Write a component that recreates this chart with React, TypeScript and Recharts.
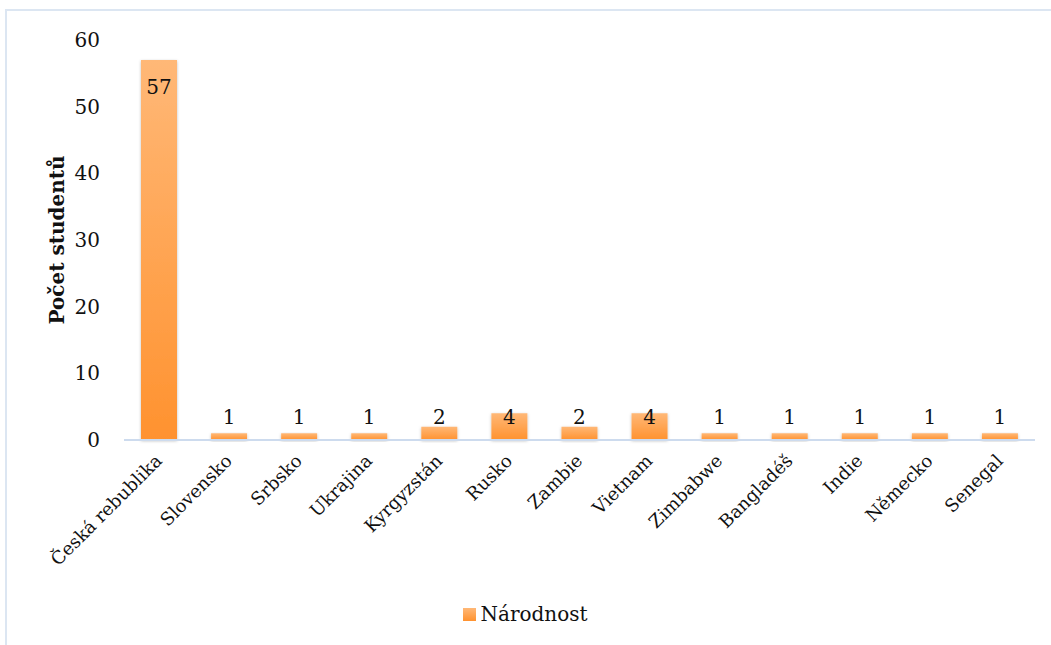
import { BarChart, Bar, XAxis, YAxis, LabelList } from "recharts";

const countries = [
  "Česká rebublika",
  "Slovensko",
  "Srbsko",
  "Ukrajina",
  "Kyrgyzstán",
  "Rusko",
  "Zambie",
  "Vietnam",
  "Zimbabwe",
  "Bangladéš",
  "Indie",
  "Německo",
  "Senegal",
];
const students = [57, 1, 1, 1, 2, 4, 2, 4, 1, 1, 1, 1, 1];
const yTicks = [0, 10, 20, 30, 40, 50, 60];

const data = countries.map((name, i) => ({ name, value: students[i] }));

const FONT = "'DejaVu Serif', 'Liberation Serif', serif";
const AXIS_COLOR = "#cddbee";

const XTick = ({ x, y, payload }: any) => (
  <text
    x={x + 4}
    y={y + 6}
    textAnchor="end"
    fontFamily={FONT}
    fontSize={18}
    fill="#111"
    transform={`rotate(-45, ${x + 4}, ${y + 6})`}
  >
    {payload.value}
  </text>
);

const BarLabel = ({ x, y, width, height, value }: any) => {
  const zero = y + height;
  // big bars get the label inside the top, small ones sit just above the axis
  const ty = height > 40 ? y + 34 : zero - 16;
  return (
    <text x={x + width / 2} y={ty} textAnchor="middle" fontFamily={FONT} fontSize={20} fill="#111">
      {value}
    </text>
  );
};

const LegendContent = () => (
  <div style={{ display: "flex", justifyContent: "center", alignItems: "center", fontFamily: FONT, fontSize: 20, color: "#111" }}>
    <span
      style={{
        display: "inline-block",
        width: 13,
        height: 13,
        marginRight: 4,
        background: "linear-gradient(#ffb877, #ff922f)",
      }}
    />
    Národnost
  </div>
);

export default function App() {
  return (
    <div style={{ position: "absolute", left: 0, top: 0, width: 1051, height: 645, background: "#fff", overflow: "hidden" }}>
      <div
        style={{
          position: "absolute",
          left: 5,
          top: 9,
          width: 1060,
          height: 660,
          border: "2px solid #dce6f2",
          boxSizing: "border-box",
        }}
      />
      <div
        style={{
          position: "absolute",
          left: 57,
          top: 240,
          transform: "translate(-50%, -50%) rotate(-90deg)",
          fontFamily: FONT,
          fontWeight: "bold",
          fontSize: 20,
          whiteSpace: "nowrap",
          color: "#111",
        }}
      >
        Počet studentů
      </div>
      <BarChart
        width={1051}
        height={645}
        data={data}
        margin={{ top: 40, right: 16, left: 0, bottom: 0 }}
        style={{ position: "absolute", left: 0, top: 0 }}
      >
        <defs>
          <linearGradient id="barFill" x1="0" y1="0" x2="0" y2="1">
            <stop offset="0%" stopColor="#ffb877" />
            <stop offset="100%" stopColor="#ff922f" />
          </linearGradient>
          <filter id="barShadow" x="-20%" y="-20%" width="140%" height="140%">
            <feDropShadow dx="0" dy="1" stdDeviation="1.5" floodColor="#000" floodOpacity="0.25" />
          </filter>
        </defs>
        <XAxis
          dataKey="name"
          interval={0}
          height={205}
          tick={<XTick />}
          tickLine={false}
          axisLine={{ stroke: AXIS_COLOR, strokeWidth: 2 }}
          tickSize={0}
          tickMargin={16}
        />
        <YAxis
          width={124}
          domain={[0, 60]}
          ticks={yTicks}
          interval={0}
          axisLine={false}
          tickLine={false}
          tickSize={0}
          tickMargin={24}
          tick={{ fontFamily: FONT, fontSize: 20, fill: "#111" }}
        />
        <Bar
          dataKey="value"
          name="Národnost"
          barSize={36}
          fill="url(#barFill)"
          filter="url(#barShadow)"
          isAnimationActive={false}
        >
          <LabelList dataKey="value" content={<BarLabel />} />
        </Bar>
      </BarChart>
      <div style={{ position: "absolute", left: 0, top: 602, width: 1051 }}>
        <LegendContent />
      </div>
    </div>
  );
}
